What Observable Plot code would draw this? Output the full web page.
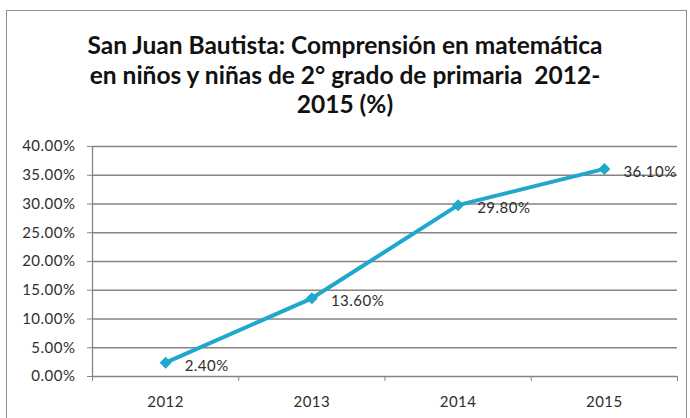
<!DOCTYPE html>
<html><head><meta charset="utf-8">
<script src="https://cdn.jsdelivr.net/npm/d3@7"></script>
<script src="https://cdn.jsdelivr.net/npm/@observablehq/plot@0.6"></script>
<style>
body{margin:0;background:#fff;}
#wrap{position:relative;width:690px;height:418px;overflow:hidden;font-family:Lato,sans-serif;background:#fff;}
#frame{position:absolute;left:6px;top:10px;width:681px;height:430px;border:1.5px solid #8f8f8f;box-sizing:border-box;}
#title{position:absolute;left:0;top:30px;width:690px;text-align:center;font-weight:bold;font-size:24.5px;line-height:29.5px;color:#111;}
#chart{position:absolute;left:0;top:130px;}
</style></head><body>
<div id="wrap"><div id="frame"></div><div id="title">San Juan Bautista: Comprensión en matemática<br>en niños y niñas de 2° grado de primaria&nbsp; 2012-<br>2015 (%)</div><div id="chart"></div></div>
<script>
const years = [2012, 2013, 2014, 2015];
const values = [2.4, 13.6, 29.8, 36.1];
const labels = ["2.40%", "13.60%", "29.80%", "36.10%"];
const yTicks = [0, 5, 10, 15, 20, 25, 30, 35, 40];
const bounds = [2011.5, 2012.5, 2013.5, 2014.5, 2015.5];
const data = years.map((y, i) => ({year: y, value: values[i], label: labels[i]}));
const grid = "#8a8282", blue = "#1fa7cd", ink = "#2e2e2e";
const chart = Plot.plot({
  width: 690, height: 288,
  marginTop: 16, marginBottom: 42, marginLeft: 92, marginRight: 13,
  x: {domain: [bounds[0], bounds[bounds.length - 1]]},
  y: {domain: [0, 40]},
  style: {fontFamily: "Lato, sans-serif", fontSize: "15px", letterSpacing: "0.5px", color: ink, background: "transparent"},
  marks: [
    Plot.gridY(yTicks, {stroke: grid, strokeOpacity: 1, strokeWidth: 1.3}),
    Plot.ruleX([bounds[0]], {stroke: grid, strokeWidth: 1.3}),
    Plot.axisY(yTicks, {tickSize: 5, tickPadding: 12, tickFormat: d => d.toFixed(2) + "%", label: null, stroke: grid, fill: ink}),
    Plot.axisX(bounds, {tickSize: 5, tickFormat: () => "", label: null, stroke: grid}),
    Plot.axisX(years, {tickSize: 0, tickPadding: 20, tickFormat: d => String(d), label: null, fill: ink}),
    Plot.line(data, {x: "year", y: "value", stroke: blue, strokeWidth: 4}),
    Plot.dot(data, {x: "year", y: "value", symbol: "square", rotate: 45, r: 4.8, fill: blue}),
    Plot.text(data, {x: "year", y: "value", text: "label", textAnchor: "start", dx: 19, dy: 3, fill: ink})
  ]
});
document.getElementById("chart").append(chart);
</script>
</body></html>
